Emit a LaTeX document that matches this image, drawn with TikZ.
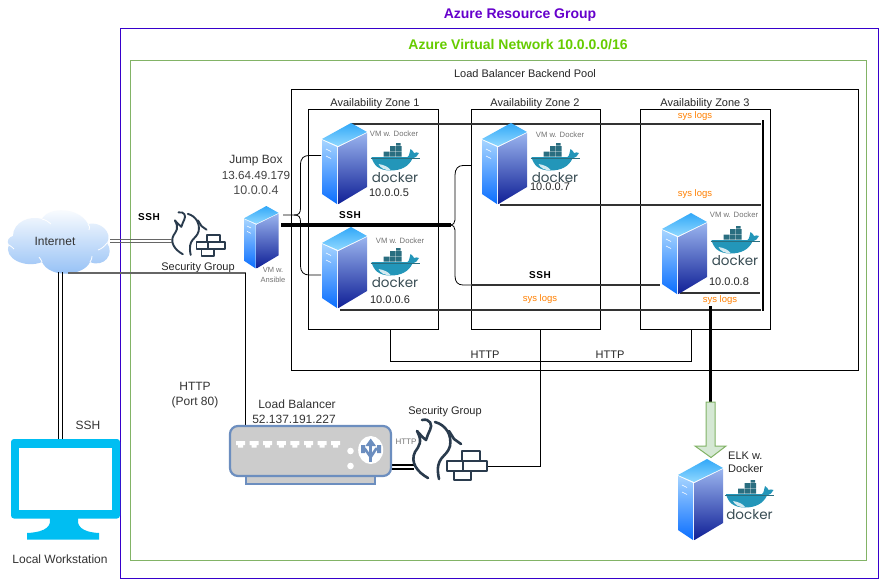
\documentclass[tikz,border=0pt]{standalone}
\usepackage{fontspec}
\setmainfont{Liberation Sans}
\newfontfamily\dockerfont{Poppins}
\usetikzlibrary{shadings,calc}
\definecolor{cPurple}{HTML}{3700CC}
\definecolor{cPurpleT}{HTML}{6600CC}
\definecolor{cGreen}{HTML}{82B366}
\definecolor{cGreenT}{HTML}{66CC00}
\definecolor{cOrange}{HTML}{FF8000}
\definecolor{cLine}{HTML}{333333}
\definecolor{cFw}{HTML}{2A3B4D}
\definecolor{cLB}{HTML}{6C8EBF}
\definecolor{cMon}{HTML}{00BEF2}
\definecolor{cArrow}{HTML}{D5E8D4}
\definecolor{cDockB}{HTML}{2396B9}
\definecolor{cDockD}{HTML}{2A6E80}
\definecolor{cDockT}{HTML}{394D54}
\definecolor{sTopA}{HTML}{32A8F8}
\definecolor{sTopB}{HTML}{8FD8FF}
\definecolor{sLeftA}{HTML}{A6D4FF}
\definecolor{sLeftB}{HTML}{0A6EFF}
\definecolor{sRightA}{HTML}{9AB4EE}
\definecolor{sRightB}{HTML}{0F1F96}
\definecolor{cCloud}{HTML}{8FBDF5}
\tikzset{
  lbl/.style={font=\fontsize{11}{13}\selectfont,text=black!85,inner sep=0pt},
  lblb/.style={font=\fontsize{12}{14.5}\selectfont,text=black!80,inner sep=0pt},
  small/.style={font=\fontsize{7.7}{9.5}\selectfont,text=black!55,inner sep=0pt},
  sys/.style={font=\fontsize{9.5}{11}\selectfont,text=cOrange,inner sep=0pt},
  sshb/.style={font=\fontsize{10}{12}\bfseries\selectfont,text=black,inner sep=0pt},
  box/.style={draw=black,line width=0.9pt},
  logline/.style={draw=cLine,line width=1.7pt},
  thin/.style={draw=black,line width=0.8pt},
}
% server: name, x, y, scale
\newcommand{\serverat}[4]{%
 \begin{scope}[shift={(#2,#3)},scale=#4]
  \shade[top color=sTopA,bottom color=sTopB] (0,16)--(29,0)--(45,9)--(16,23)--cycle;
  \shade[top color=sLeftA,bottom color=sLeftB] (0,17)--(15,24)--(15,81)--(0,71)--cycle;
  \shade[top color=sRightA,bottom color=sRightB] (16.5,24)--(45,10)--(45,64)--(16.5,81)--cycle;
  \draw[white,line width=0.6pt] (4,26)--(9,28.5) (4,33)--(9,35.5);
  \node[inner sep=0pt,minimum width=#4*45pt,minimum height=#4*81pt] (#1) at (22.5,40.5) {};
 \end{scope}}
% docker logo: x, y (top-left)
\newcommand{\dockerat}[2]{%
 \begin{scope}[shift={(#1,#2)}]
  \fill[cDockB] (1,14)--(37,14) .. controls (39,13) and (39,9) .. (40,6) .. controls (42,7) and (43,9) .. (43.5,10) .. controls (45,9) and (47,9.5) .. (48.5,10) .. controls (47,13) and (45,15) .. (42,15.5) .. controls (38,24) and (30,27.5) .. (20,27.5) .. controls (8,27.5) and (3,22) .. (1,14)--cycle;
  \fill[white!80!cDockB] (8,21) .. controls (14,22) and (18,24) .. (20,27) .. controls (14,27.5) and (10,25) .. (8,21)--cycle;
  \fill[cDockD] (13,8.5) rectangle (19,13.5) (19.5,8.5) rectangle (25,13.5) (25.5,8.5) rectangle (31,13.5)
    (19.5,3) rectangle (25,8) (25.5,3) rectangle (31,8) (25.5,0) rectangle (30,2.6);
  \draw[cDockD,line width=0.4pt] (0,15.5)--(49,15.5);
  \node[font=\fontsize{13.5}{16}\selectfont\dockerfont,text=cDockT,inner sep=0pt,anchor=base] at (24.5,39.5) {docker};
 \end{scope}}
% firewall icon: name, x, y, scale, line width
\newcommand{\firewallat}[5]{%
 \begin{scope}[shift={(#2,#3)},scale=#4,cFw,line width=#5,line cap=round,line join=round]
  \draw (9,2) .. controls (17,0) and (20,7) .. (17,12) .. controls (15,16) and (14,19) .. (13,22) .. controls (9,19) and (6,15) .. (4,13) .. controls (10,24) and (6,28) .. (2,34) .. controls (-3,44) and (4,54) .. (15,60);
  \draw (22,4) .. controls (33,7) and (39,17) .. (37,28) .. controls (34,40) and (21,38) .. (26,61);
  \draw (36,13) -- (41,21) -- (48,26);
  \draw (49,33) rectangle (67,43) (34,43) rectangle (50,53) (50,43) rectangle (74,53) (41,53) rectangle (58,62);
  \node[inner sep=0pt,minimum width=#4*74pt,minimum height=#4*62pt] (#1) at (37,31) {};
 \end{scope}}
\begin{document}
\begin{tikzpicture}[x=1pt,y=-1pt]
\useasboundingbox (0,0) rectangle (881,579);
\fill[white] (0,0) rectangle (881,579);
% containers
\node[draw=cPurple,line width=1pt,minimum width=758pt,minimum height=550pt,inner sep=0pt] (rg) at (499,303) {};
\node[draw=cGreen,line width=1pt,minimum width=736pt,minimum height=500pt,inner sep=0pt] (vn) at (498,310) {};
\node[box,minimum width=567pt,minimum height=281pt,inner sep=0pt] (pool) at (574.5,229.5) {};
\node[box,minimum width=130pt,minimum height=220pt,inner sep=0pt] (z1) at (373.5,219) {};
\node[box,minimum width=129pt,minimum height=220pt,inner sep=0pt] (z2) at (535.5,219) {};
\node[box,minimum width=130pt,minimum height=220pt,inner sep=0pt] (z3) at (705,219) {};
\node[font=\fontsize{14}{16}\bfseries\selectfont,text=cPurpleT,inner sep=0pt] (t1) at (520,15) {Azure Resource Group};
\node[font=\fontsize{14}{16}\bfseries\selectfont,text=cGreenT,inner sep=0pt] (t2) at (518,45) {Azure Virtual Network 10.0.0.0/16};
\node[lbl] (t3) at (525,74) {Load Balancer Backend Pool};
\node[lbl] (zl1) at (375,104) {Availability Zone 1};
\node[lbl] (zl2) at (535,104) {Availability Zone 2};
\node[lbl] (zl3) at (705,104) {Availability Zone 3};
% connector anchors
\coordinate (a1) at (351,124); \coordinate (a1e) at (761,124);
\coordinate (a2) at (500,205); \coordinate (a2e) at (761,205);
\coordinate (a3) at (340,310); \coordinate (a3e) at (761,310);
\coordinate (a4) at (680,293); \coordinate (a4e) at (760,293);
\coordinate (bus1) at (763,120); \coordinate (bus2) at (763,311);
\coordinate (h1) at (390,329); \coordinate (h2) at (691,329);
\coordinate (h3) at (540,329);
\coordinate (jt) at (283,215);
\coordinate (jb) at (281,225); \coordinate (jbe) at (451,225);
\coordinate (s8in) at (660,285);
% HTTP lines
\draw[thin] (h1) -- (390,361) -- (691,361) -- (h2);
\coordinate (fwout) at (488,466);
\draw[thin] (h3) -- (540,466) -- (fwout);
% sys log lines
\draw[logline] (a1) -- (a1e);
\draw[logline] (a2) -- (a2e);
\draw[logline] (a3) -- (a3e);
\draw[logline] (a4) -- (a4e);
\draw[draw=black,line width=1.8pt] (bus1) -- (bus2);
% elk feed
\coordinate (elkfeed) at (710.5,306);
\coordinate (elkhead) at (710.5,403);
\draw[draw=black,line width=2.3pt] (elkfeed) -- (elkhead);
% SSH brace left
\draw[thin] (jt) -- (294,215) .. controls (299,215) and (300.5,213) .. (300.5,208) -- (300.5,165) .. controls (300.5,158) and (304,155.5) .. (309,155.5) -- (321,155.5);
\draw[thin] (294,215) .. controls (299,215) and (300.5,217) .. (300.5,222) -- (300.5,266) .. controls (300.5,272) and (304,275) .. (309,275) -- (321,275);
% SSH brace right
\draw[thin] (jbe) .. controls (453,225) and (455,223) .. (455,220) -- (455,175) .. controls (455,169) and (458,165.5) .. (463,165.5) -- (471,165.5);
\draw[thin] (jbe) .. controls (453,225) and (455,227) .. (455,230) -- (455,276) .. controls (455,282) and (458,285) .. (463,285) -- (471,285);
\draw[logline] (471,285) -- (s8in);
\draw[draw=black,line width=3.3pt] (jb) -- (jbe);
% servers and logos
\serverat{s5}{322}{123}{1}
\serverat{s6}{322}{227}{1}
\serverat{s7}{482}{123}{1}
\serverat{s8}{662}{213}{1}
\serverat{jump}{244}{206}{0.77}
\serverat{elk}{678}{459}{1}
\dockerat{370.5}{143}
\dockerat{370.5}{248}
\dockerat{530.5}{143}
\dockerat{710.5}{226}
\dockerat{725}{480}
% server labels
\node[small] (v5) at (394,134) {VM w. Docker};
\node[small] (v6) at (400,241) {VM w. Docker};
\node[small] (v7) at (560,135) {VM w. Docker};
\node[small] (v8) at (734,215) {VM w. Docker};
\node[lbl] (ip5) at (389,192.5) {10.0.0.5};
\node[lbl] (ip6) at (390,300) {10.0.0.6};
\node[lbl] (ip7) at (550,187) {10.0.0.7};
\node[lbl] (ip8) at (729,282) {10.0.0.8};
\node[sys] (sl1) at (695,116) {sys logs};
\node[sys] (sl2) at (695,194) {sys logs};
\node[sys] (sl3) at (540,299) {sys logs};
\node[sys] (sl4) at (720,300) {sys logs};
\node[sshb] (ssh2) at (350,215) {S\kern0.6pt S\kern0.6pt H};
\node[sshb] (ssh3) at (540,275) {S\kern0.6pt S\kern0.6pt H};
\node[lbl] (hl1) at (485,355) {HTTP};
\node[lbl] (hl2) at (610,355) {HTTP};
% jump labels
\node[lblb] (jl1) at (256,161) {Jump Box};
\node[lblb,font=\fontsize{11.7}{13}\selectfont,text=black!75] (jl2) at (256,175) {13.64.49.179};
\node[lblb,font=\fontsize{12.5}{14}\selectfont,text=black!70] (jl3) at (256,190) {10.0.0.4};
\node[small,font=\fontsize{7.5}{10}\selectfont,align=center] (jl4) at (273,275) {VM w.\\Ansible};
% cloud
\node[inner sep=0pt,minimum width=105pt,minimum height=64pt] (cloud) at (59.5,242) {};
\shade[top color=white,bottom color=cCloud]
 (13,236) .. controls (13,222) and (30,215) .. (42,219) .. controls (48,207) and (78,206) .. (88,224) .. controls (100,221) and (113,232) .. (107,243) .. controls (115,254) and (104,268) .. (90,262) .. controls (84,276) and (50,279) .. (42,262) .. controls (25,269) and (3,258) .. (9,245) .. controls (6,241) and (9,237) .. (13,236) -- cycle;
\draw[white,line width=0.8pt] (42,219) .. controls (46,220) and (49,222) .. (51,224) (88,224) .. controls (90,226) and (90,228) .. (89,230) (107,243) .. controls (104,247) and (101,249) .. (98,250) (90,262) .. controls (92,259) and (92,257) .. (92,256) (42,262) .. controls (41,260) and (40,258) .. (39,257) (9,245) .. controls (12,247) and (13,248) .. (14,249);
\node[lblb] (inetl) at (55,241) {Internet};
% security group 1
\firewallat{fw1}{172}{211}{0.72}{1.9pt}
\node[lbl] (sgl1) at (198,268) {Security Group};
% internet links
\coordinate (i1) at (110,241); \coordinate (i2) at (172,241);
\draw[black!60,line width=1pt] ($(i1)+(0,-1.8)$) -- ($(i2)+(0,-1.8)$) ($(i1)+(0,1.8)$) -- ($(i2)+(0,1.8)$);
\node[sshb] (ssh1) at (149,217) {S\kern0.6pt S\kern0.6pt H};
\coordinate (i3) at (68,273); \coordinate (i4) at (245.5,273); \coordinate (i5) at (245.5,426);
\draw[draw=black!60,line width=1.5pt] (i3) -- (i4);
\draw[thin] (i4) -- (i5);
\coordinate (i6) at (60.5,272); \coordinate (i7) at (60.5,439);
\draw[thin] ($(i6)+(-2,0)$) -- ($(i7)+(-2,0)$) ($(i6)+(2,0)$) -- ($(i7)+(2,0)$);
\node[lblb] (sshl) at (88,425) {SSH};
\node[lblb,align=center] (httpl) at (195,395) {HTTP\\(Port 80)};
% monitor
\node[inner sep=0pt,minimum width=109pt,minimum height=100pt] (mon) at (65.5,489) {};
\fill[cMon,rounded corners=3pt] (11,439) rectangle (120,518.5);
\fill[white] (19,448) rectangle (112,510);
\fill[cMon] (50,518) .. controls (51,525) and (48,532) .. (27,533) -- (27,539.5) -- (99,539.5) -- (99,533) .. controls (80,532) and (77,525) .. (78,518) -- cycle;
\node[lblb] (lw) at (60,559) {Local Workstation};
% load balancer
\draw[line width=1.2pt,draw=black] (391,465) -- (414,465) (391,469) -- (414,469);
\node[lblb] (lbl1) at (297,404) {Load Balancer};
\node[lblb] (lbl2) at (294,419) {52.137.191.227};
\node[draw=cLB,fill=black!20,line width=1.8pt,minimum width=129pt,minimum height=8pt,inner sep=0pt] (lbbase) at (310.5,480) {};
\node[draw=cLB,fill=black!20,line width=2.2pt,rounded corners=8pt,minimum width=161pt,minimum height=50pt,inner sep=0pt] (lb) at (310.5,451) {};
\foreach \i in {0,...,7}{
  \fill[white] ({236+13.6*\i},441) rectangle ({245+13.6*\i},445) ({238+13.6*\i},445) rectangle ({243+13.6*\i},447.5);
}
\fill[white] (350.5,451) circle (3.3) (350.5,466) circle (3.3);
\fill[white] (370.7,450) ellipse (12.5 and 14);
\draw[cLB,line width=2.6pt] (370.7,462) -- (370.7,445);
\fill[cLB] (370.7,438.5) -- (376,446) -- (365.4,446) -- cycle;
\draw[cLB,line width=2.6pt] (362,449) -- (365,449) -- (370.7,457) -- (376,449) -- (379,449);
\fill[cLB] (361,445) rectangle (365,453) (377,445) rectangle (381,453);
\node[small,font=\fontsize{8}{9.5}\selectfont] (hl3) at (406,442) {HTTP};
\firewallat{fw2}{413}{418}{1}{2.6pt}
\node[lbl] (sgl2) at (445,412) {Security Group};
% ELK arrow
\draw[cGreen,fill=cArrow,line width=1pt] (706,402) -- (715,402) -- (715,446) -- (726,446) -- (711,457.5) -- (695,446) -- (706,446) -- cycle;
\node[lbl,align=left,anchor=north west] (elkl) at (728,452) {ELK w.\\Docker};
\end{tikzpicture}
\end{document}
